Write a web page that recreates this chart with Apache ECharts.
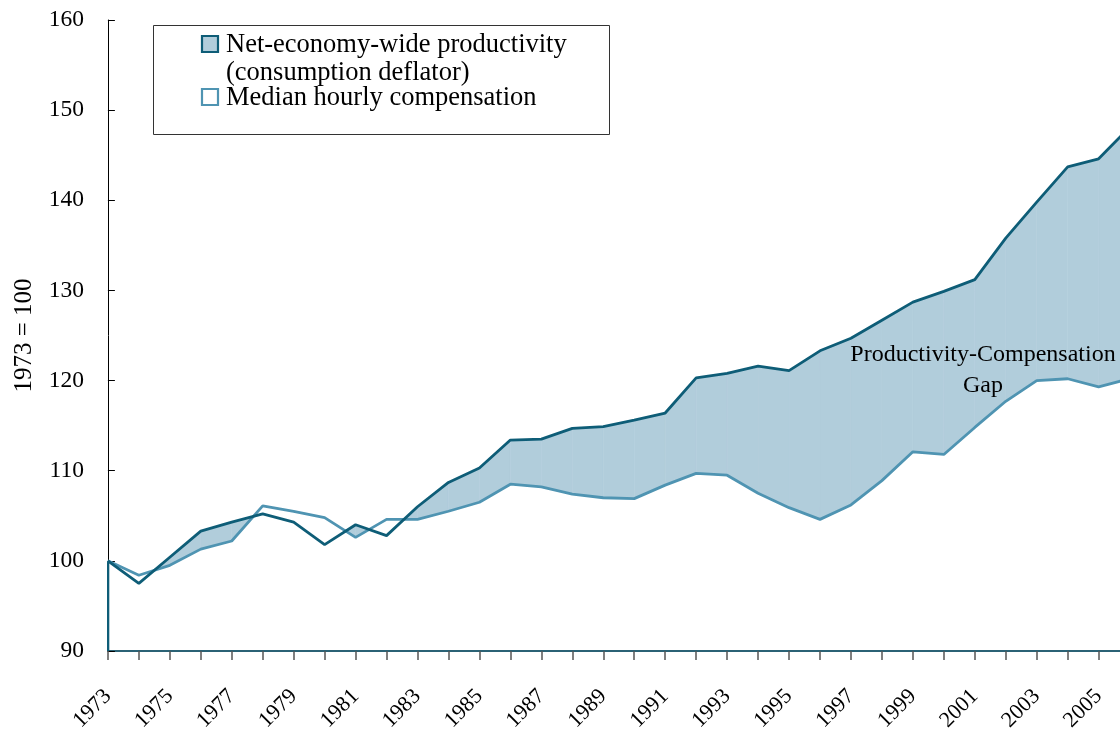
<!DOCTYPE html>
<html>
<head>
<meta charset="utf-8">
<script src="https://cdn.jsdelivr.net/npm/echarts@6/dist/echarts.min.js"></script>
<style>
html,body{margin:0;padding:0;background:#fff;}
#chart{width:1120px;height:734px;}
</style>
</head>
<body>
<div id="chart"></div>
<script>
// ---- data ----
const years = [1973,1974,1975,1976,1977,1978,1979,1980,1981,1982,1983,1984,1985,1986,1987,1988,1989,1990,1991,1992,1993,1994,1995,1996,1997,1998,1999,2000,2001,2002,2003,2004,2005,2006];
const productivity = [100,97.5,100.4,103.3,104.3,105.2,104.3,101.8,104.0,102.8,106.0,108.7,110.3,113.4,113.5,114.7,114.9,115.6,116.4,120.3,120.8,121.6,121.1,123.3,124.7,126.7,128.7,129.9,131.2,135.8,139.8,143.7,144.6,148.1];
const compensation = [100,98.4,99.5,101.3,102.2,106.1,105.5,104.8,102.6,104.6,104.6,105.5,106.5,108.5,108.2,107.4,107.0,106.9,108.4,109.7,109.5,107.5,105.9,104.6,106.2,108.9,112.1,111.8,114.8,117.7,120.0,120.2,119.3,120.2];
const yTicks = [90,100,110,120,130,140,150,160];
const xStart = 1973;
const xVisibleEnd = 2005.69;   // the reference is cut off just past 2005
const seriesNames = ['Net-economy-wide productivity', 'Median hourly compensation'];
const legendSubline = '(consumption deflator)';
const yAxisTitle = '1973 = 100';
const gapLabel = 'Productivity-Compensation\nGap';

const DARK = '#0e5d77';
const LIGHT = '#4f94b2';
const FILL = '#b1cddb';
const FONT = 'Liberation Serif';

const prodPairs = years.map((y, i) => [y, productivity[i]]);
const compPairs = years.map((y, i) => [y, compensation[i]]);

const chart = echarts.init(document.getElementById('chart'), null, {renderer: 'canvas'});

function renderGap(params, api) {
  const children = [];
  const n = years.length;
  for (let i = 0; i < n - 1; i++) {
    const d0 = productivity[i] - compensation[i];
    const d1 = productivity[i+1] - compensation[i+1];
    const pA0 = api.coord([years[i], productivity[i]]), pA1 = api.coord([years[i+1], productivity[i+1]]);
    const pB0 = api.coord([years[i], compensation[i]]), pB1 = api.coord([years[i+1], compensation[i+1]]);
    let pts = null;
    if (d0 >= 0 && d1 >= 0) {
      pts = [pA0, pA1, pB1, pB0];
    } else if (d0 > 0 && d1 < 0) {
      const t = d0 / (d0 - d1);
      const c = [pA0[0] + (pA1[0]-pA0[0])*t, pA0[1] + (pA1[1]-pA0[1])*t];
      pts = [pA0, c, pB0];
    } else if (d0 < 0 && d1 > 0) {
      const t = d0 / (d0 - d1);
      const c = [pA0[0] + (pA1[0]-pA0[0])*t, pA0[1] + (pA1[1]-pA0[1])*t];
      pts = [c, pA1, pB1];
    }
    if (pts) {
      children.push({type: 'polygon', shape: {points: pts}, style: {fill: FILL, stroke: FILL, lineWidth: 0.6}});
    }
  }
  // left edge of the productivity area (down to the axis minimum)
  const top = api.coord([years[0], productivity[0]]);
  const bot = api.coord([years[0], yTicks[0]]);
  children.push({type: 'line', shape: {x1: top[0], y1: top[1], x2: bot[0], y2: bot[1]}, style: {stroke: DARK, lineWidth: 2.8}});
  return {type: 'group', children: children};
}

const option = {
  animation: false,
  textStyle: {fontFamily: FONT},
  grid: {left: 107.9, top: 20, bottom: 82, right: 0, containLabel: false},
  xAxis: {
    type: 'value',
    min: xStart, max: xVisibleEnd, interval: 1,
    axisLine: {lineStyle: {color: '#2b6275', width: 2}},
    axisTick: {show: true, length: 9, lineStyle: {color: '#555', width: 1.5}},
    axisLabel: {
      rotate: 45, margin: 42, fontSize: 22, color: '#000', fontFamily: FONT,
      showMaxLabel: false,
      formatter: function (v) {
        const r = Math.round(v);
        if (Math.abs(v - r) > 1e-6) return '';
        return ((r - xStart) % 2 === 0) ? String(r) : '';
      }
    },
    splitLine: {show: false}
  },
  yAxis: {
    type: 'value',
    min: yTicks[0], max: yTicks[yTicks.length-1], interval: 10,
    name: yAxisTitle,
    nameLocation: 'middle',
    nameGap: 71,
    nameRotate: 90,
    nameTextStyle: {fontSize: 25, color: '#000', fontFamily: FONT},
    axisLine: {show: true, lineStyle: {color: '#000', width: 1}},
    axisTick: {show: true, inside: true, length: 7, lineStyle: {color: '#000'}},
    axisLabel: {fontSize: 23.5, color: '#000', margin: 24, fontFamily: FONT},
    splitLine: {show: false}
  },
  series: [
    {
      type: 'custom',
      name: 'gap',
      renderItem: renderGap,
      data: [[xStart, yTicks[0]]],
      clip: true,
      silent: true,
      z: 1
    },
    {
      type: 'line',
      name: seriesNames[1],
      data: compPairs,
      showSymbol: false,
      symbol: 'none',
      clip: true,
      lineStyle: {color: LIGHT, width: 2.8},
      z: 3
    },
    {
      type: 'line',
      name: seriesNames[0],
      data: prodPairs,
      showSymbol: false,
      symbol: 'none',
      clip: true,
      lineStyle: {color: DARK, width: 2.8},
      z: 4
    }
  ],
  graphic: [
    {type: 'rect', shape: {x: 153.5, y: 25.5, width: 456, height: 109}, style: {fill: '#fff', stroke: '#333', lineWidth: 1}, z: 10},
    {type: 'rect', shape: {x: 202, y: 36, width: 16, height: 16}, style: {fill: FILL, stroke: DARK, lineWidth: 2.2}, z: 11},
    {type: 'text', x: 226, y: 45, style: {text: seriesNames[0], font: '26.5px "Liberation Serif"', fill: '#000', textVerticalAlign: 'middle'}, z: 11},
    {type: 'text', x: 226, y: 73, style: {text: legendSubline, font: '26.5px "Liberation Serif"', fill: '#000', textVerticalAlign: 'middle'}, z: 11},
    {type: 'rect', shape: {x: 202, y: 89, width: 16, height: 16}, style: {fill: '#fff', stroke: LIGHT, lineWidth: 2.2}, z: 11},
    {type: 'text', x: 226, y: 98, style: {text: seriesNames[1], font: '26.5px "Liberation Serif"', fill: '#000', textVerticalAlign: 'middle'}, z: 11},
    {type: 'text', x: 983, y: 370, style: {text: gapLabel, font: '24px "Liberation Serif"', fill: '#000', textAlign: 'center', textVerticalAlign: 'middle', lineHeight: 31}, z: 11}
  ]
};
chart.setOption(option);
</script>
</body>
</html>
